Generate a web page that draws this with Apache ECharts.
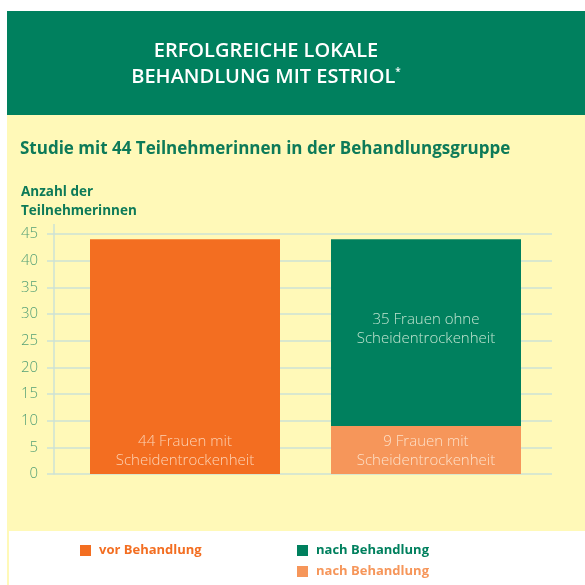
<!DOCTYPE html>
<html><head><meta charset="utf-8">
<script src="https://cdn.jsdelivr.net/npm/echarts@6/dist/echarts.min.js"></script>
<style>html,body{margin:0;padding:0;background:#fff}#c{width:585px;height:585px}</style>
</head><body><div id="c"></div>
<script>
const categories = ['vor Behandlung', 'nach Behandlung'];
const vorValues = [44, '-'];
const nachMitValues = ['-', 9];
const nachOhneValues = ['-', 35];
const yTicks = [0, 5, 10, 15, 20, 25, 30, 35, 40, 45];
const vorLabels = ['44 Frauen mit\nScheidentrockenheit', ''];
const nachMitLabels = ['', '9 Frauen mit\nScheidentrockenheit'];
const nachOhneLabels = ['', '35 Frauen ohne\nScheidentrockenheit'];
const legendNames = ['vor Behandlung', 'nach Behandlung', 'nach Behandlung'];

const GREEN = '#00805e', ORANGE = '#f36e21', LORANGE = '#f6965a', YELLOW = '#fff9b8';
const F = '"Open Sans", "Noto Sans", sans-serif';
const chart = echarts.init(document.getElementById('c'));
chart.setOption({
  backgroundColor: '#ffffff',
  animation: false,
  graphic: [
    {type:'rect', z:-10, shape:{x:7,y:11,width:578,height:104}, style:{fill:GREEN}},
    {type:'rect', z:-10, shape:{x:7,y:115,width:578,height:416}, style:{fill:YELLOW}},
    {type:'rect', z:-10, shape:{x:7,y:531,width:2,height:54}, style:{fill:YELLOW}},
    {type:'line', z:5, shape:{x1:54,y1:224,x2:54,y2:474.5}, style:{stroke:'#cde2d6', lineWidth:1.5}}
  ],
  title: [
    {text: 'ERFOLGREICHE LOKALE\nBEHANDLUNG MIT ESTRIOL{s|*}', left: 266, top: 38, textAlign: 'center', padding:0,
     textStyle: {color:'#fff', fontFamily:F, fontWeight:600, fontSize:20, lineHeight:26,
       rich: {s:{fontSize:10, color:'#fff', fontFamily:F, padding:[0,0,10,0]}}}},
    {text: 'Studie mit 44 Teilnehmerinnen in der Behandlungsgruppe', left: 20, top: 141, padding:0,
     textStyle: {color:'#0d7a58', fontFamily:F, fontWeight:'bold', fontSize:17}},
    {text: 'Anzahl der\nTeilnehmerinnen', left: 21, top: 183, padding:0,
     textStyle: {color:'#0d7a58', fontFamily:F, fontWeight:'bold', fontSize:13.5, lineHeight:19}}
  ],
  grid: [
    {left:54, right:33, top:234, height:240},
    {left:64.5, right:38.5, top:234, height:240}
  ],
  xAxis: [
    {gridIndex:0, type:'category', data:categories, show:false},
    {gridIndex:1, type:'category', data:categories, show:false}
  ],
  yAxis: [
    {gridIndex:0, type:'value', min:yTicks[0], max:yTicks[yTicks.length-1], interval:5,
     axisLine:{show:false},
     axisTick:{show:true, length:7, lineStyle:{color:'#cde2d6', width:1.5}},
     splitLine:{show:true, lineStyle:{color:'#cde2d6', width:1.5}},
     axisLabel:{margin:16, color:'#55a076', fontFamily:F, fontWeight:300, fontSize:15}},
    {gridIndex:1, type:'value', min:yTicks[0], max:yTicks[yTicks.length-1], show:false, splitLine:{show:false}}
  ],
  legend: [
    {data:[{name:'vor Behandlung'}], left:80, top:544, padding:0, icon:'rect', itemWidth:11, itemHeight:11,
     selectedMode:false, textStyle:{color:ORANGE, fontFamily:F, fontWeight:'bold', fontSize:13, padding:[0,0,0,3]}},
    {data:[{name:'nach Behandlung (ohne)'}], left:297, top:544, padding:0, icon:'rect', itemWidth:11, itemHeight:11,
     selectedMode:false, formatter:()=>legendNames[1],
     textStyle:{color:GREEN, fontFamily:F, fontWeight:'bold', fontSize:13, padding:[0,0,0,3]}},
    {data:[{name:'nach Behandlung (mit)'}], left:297, top:565, padding:0, icon:'rect', itemWidth:11, itemHeight:11,
     selectedMode:false, formatter:()=>legendNames[2],
     textStyle:{color:LORANGE, fontFamily:F, fontWeight:'bold', fontSize:13, padding:[0,0,0,3]}}
  ],
  series: [
    {name:'vor Behandlung', type:'bar', stack:'s', xAxisIndex:1, yAxisIndex:1, barWidth:190,
     data:vorValues, itemStyle:{color:ORANGE},
     label:{show:true, position:'insideBottom', distance:4, formatter:p=>vorLabels[p.dataIndex],
       color:'#fcd3b5', fontFamily:F, fontWeight:300, fontSize:15, lineHeight:19}},
    {name:'nach Behandlung (mit)', type:'bar', stack:'s', xAxisIndex:1, yAxisIndex:1, barWidth:190,
     data:nachMitValues, itemStyle:{color:LORANGE},
     label:{show:true, position:'insideBottom', distance:4, formatter:p=>nachMitLabels[p.dataIndex],
       color:'#fde0c8', fontFamily:F, fontWeight:300, fontSize:15, lineHeight:19}},
    {name:'nach Behandlung (ohne)', type:'bar', stack:'s', xAxisIndex:1, yAxisIndex:1, barWidth:190,
     data:nachOhneValues, itemStyle:{color:GREEN},
     label:{show:true, position:'inside', offset:[0,-3], formatter:p=>nachOhneLabels[p.dataIndex],
       color:'#bfe3cf', fontFamily:F, fontWeight:300, fontSize:15, lineHeight:19}}
  ]
});
</script></body></html>
